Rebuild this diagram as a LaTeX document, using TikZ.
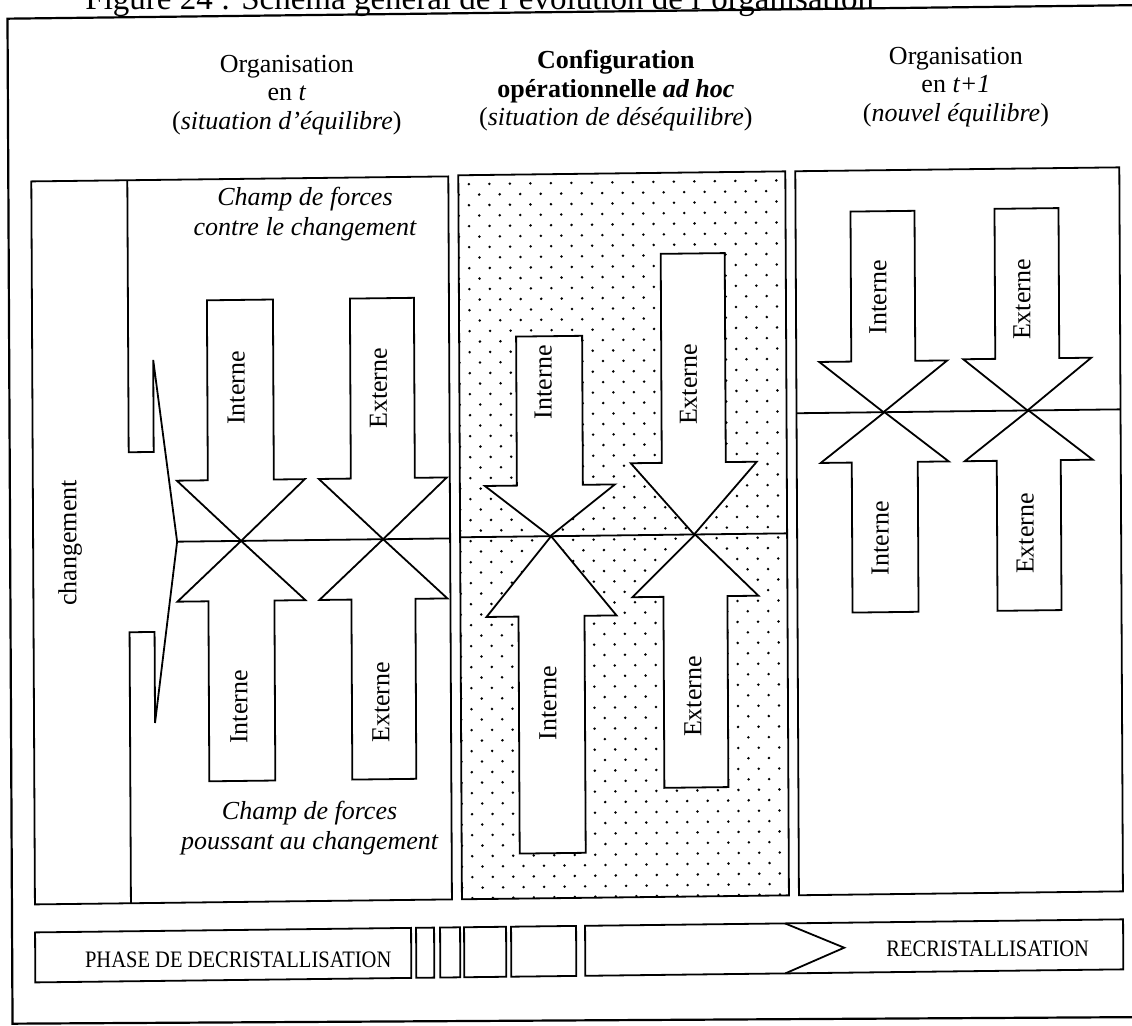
\documentclass[tikz,border=0pt]{standalone}
\usepackage{fontspec}
\setmainfont{Liberation Serif}

% Block arrow: #1 centre x, #2 tail y, #3 head base y, #4 tip y,
% #5 half width of the shaft, #6 half width of the head
\newcommand{\forcearrow}[6]{%
  \filldraw[force] (#1-#5,#2) -- (#1+#5,#2) -- (#1+#5,#3) -- (#1+#6,#3)
    -- (#1,#4) -- (#1-#6,#3) -- (#1-#5,#3) -- cycle;}

\begin{document}
\begin{tikzpicture}[x=0.5pt,y=-0.5pt,
  every node/.style={inner sep=0pt, outer sep=0pt},
  body/.style={font=\fontsize{13}{14.25}\selectfont},
  ital/.style={font=\fontsize{13}{15}\selectfont\itshape},
  lbl/.style={font=\fontsize{13}{15}\selectfont, rotate=90},
  phase/.style={font=\fontsize{11.8}{13}\selectfont, xscale=0.87},
  frame/.style={line width=1.1pt},
  panel/.style={line width=0.9pt, line join=miter},
  force/.style={line width=0.9pt, fill=white, line join=miter},
]
\path[use as bounding box, fill=white] (0,0) rectangle (1132,1025);

% the printed page sits very slightly askew
\begin{scope}[shift={(566,512)}, cm={1,0.012,-0.005,1,(0pt,0pt)}, shift={(-566,-512)}]

% title (cut by the top edge) and outer frame
\node[anchor=base west, font=\fontsize{16.5}{18}\selectfont] (title) at (88,3.5)
  {Figure 24 : Schéma général de l’évolution de l’organisation};
\draw[frame] (1145,12) -- (10,12) -- (10,1017) -- (1145,1024);

% column headings
\node[body, align=center] (hdrA) at (289,91.5)
  {Organisation\\en \textit{t}\\(\textit{situation d’équilibre})};
\node[body, align=center] (hdrB) at (618,91.5)
  {\textbf{Configuration}\\\textbf{opérationnelle \textit{ad hoc}}\\(\textit{situation de déséquilibre})};
\node[body, align=center] (hdrC) at (958,91.5)
  {Organisation\\en \textit{t+1}\\(\textit{nouvel équilibre})};

% ---------- left panel: organisation at t ----------
\draw[panel] (33,175) rectangle (450,898);
\draw[panel] (177,537) -- (450,537);
\draw[panel] (129,175) -- (129,447) -- (154,447) -- (154,355) -- (177,537)
  -- (154,718) -- (154,627) -- (129,627) -- (129,898);
\node[lbl] (chg) at (70,537) {changement};

\forcearrow{241}{296}{476}{537}{33}{64}
\forcearrow{241}{777}{597}{537}{33}{64}
\forcearrow{383}{296}{476}{537}{32}{64}
\forcearrow{383}{777}{597}{537}{32}{64}
\node[lbl] (inA1) at (237,384) {Interne};
\node[lbl] (exA1) at (379,386) {Externe};
\node[lbl] (inA2) at (238,703) {Interne};
\node[lbl] (exA2) at (380,700) {Externe};

\node[ital, align=center] (fieldUp) at (306.5,211) {Champ de forces\\contre le changement};
\node[ital, align=center] (fieldDn) at (308,825) {Champ de forces\\poussant au changement};

% ---------- middle panel: ad hoc configuration (dotted) ----------
\begin{scope}
  \clip (460,174) rectangle (787,898);
  \foreach \j in {0,...,69} {
    \pgfmathsetmacro{\xo}{isodd(\j) ? 470.5 : 460.25}
    \foreach \i in {0,...,16}
      \fill (\xo+20.5*\i, 172.5+10.5*\j) circle[radius=0.7pt];
  }
\end{scope}
\draw[panel] (460,174) rectangle (787,898);
\draw[panel] (460,536) -- (787,536);

\forcearrow{550}{336}{485}{536}{33}{65}
\forcearrow{694}{255}{464}{536}{32}{63}
\forcearrow{551}{853}{616}{536}{33}{65}
\forcearrow{695}{789}{598}{536}{32}{63}
\node[lbl] (inB1) at (544,382) {Interne};
\node[lbl] (exB1) at (689,386) {Externe};
\node[lbl] (inB2) at (547,703) {Interne};
\node[lbl] (exB2) at (692,698) {Externe};

% ---------- right panel: organisation at t+1 ----------
\draw[panel] (797,174) rectangle (1121,898);
\draw[panel] (797,416) -- (1121,416);

\forcearrow{884}{215}{365}{416}{32}{64}
\forcearrow{1028}{214}{364}{416}{32}{64}
\forcearrow{885}{616}{466}{416}{33}{64}
\forcearrow{1029}{616}{466}{416}{32}{64}
\node[lbl] (inC1) at (879,301) {Interne};
\node[lbl] (exC1) at (1023,305) {Externe};
\node[lbl] (inC2) at (880,542) {Interne};
\node[lbl] (exC2) at (1025,539) {Externe};

% ---------- phase bar ----------
\draw[panel] (33,926) rectangle (409,976);
\draw[panel] (414,926) rectangle (432,976);
\draw[panel] (438,926) rectangle (458,976);
\draw[panel] (462,926) rectangle (504,976);
\draw[panel] (509,926) rectangle (574,976);
\draw[panel] (583,926) rectangle (1121,976);
\draw[panel] (783,926) -- (842,951) -- (783,976);
\node[phase] (decr) at (236,956) {PHASE DE DECRISTALLISATION};
\node[phase] (recr) at (985.5,954) {RECRISTALLISATION};

\end{scope}
\end{tikzpicture}
\end{document}
